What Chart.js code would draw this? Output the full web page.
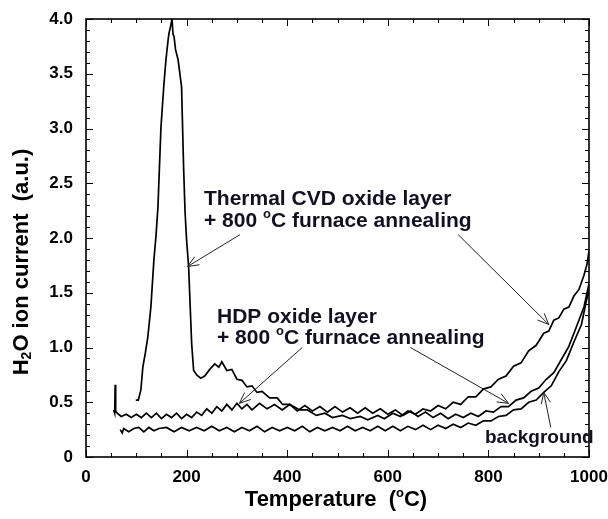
<!DOCTYPE html>
<html>
<head>
<meta charset="utf-8">
<script src="https://cdn.jsdelivr.net/npm/chart.js@4.4.1/dist/chart.umd.min.js"></script>
<style>
  html, body { margin: 0; padding: 0; background: #fff; }
</style>
</head>
<body>
<canvas id="tds" width="608" height="519"></canvas>
<script>
// axis ticks
const xTicks = [0, 200, 400, 600, 800, 1000];
const xTickLabels = ['0', '200', '400', '600', '800', '1000'];
const yTicks = [0, 0.5, 1, 1.5, 2, 2.5, 3, 3.5, 4];
const yTickLabels = ['0', '0.5', '1.0', '1.5', '2.0', '2.5', '3.0', '3.5', '4.0'];

// Thermal CVD oxide + 800C anneal
const cvdTemp = [99, 104, 109, 113, 118, 123, 129, 135, 139, 143, 149, 155, 159, 163, 165, 168, 171, 173, 175, 178,
  183, 190, 194, 197, 200, 204, 210, 214, 220, 228, 236, 246, 256, 264, 270, 280, 290, 300, 310, 320,
  330, 340, 350, 365, 380, 391, 405, 425, 440, 458, 475, 490, 510, 526, 545, 560, 580, 593, 610, 625,
  640, 655, 670, 685, 700, 715, 730, 745, 760, 775, 790, 805, 820, 835, 850, 865, 880, 895, 910, 920,
  930, 940, 950, 960, 970, 980, 990, 996, 1000];
const cvdCurrent = [0.52, 0.52, 0.61, 0.82, 0.95, 1.10, 1.37, 1.80, 2.01, 2.28, 3.01, 3.41, 3.63, 3.80, 3.87, 3.93, 4.0, 3.86, 3.84, 3.72,
  3.63, 3.38, 2.65, 2.23, 1.98, 1.74, 1.04, 0.79, 0.75, 0.72, 0.74, 0.80, 0.85, 0.82, 0.87, 0.79, 0.80, 0.71, 0.70, 0.64,
  0.65, 0.59, 0.60, 0.54, 0.54, 0.48, 0.48, 0.43, 0.43, 0.38, 0.40, 0.36, 0.38, 0.35, 0.37, 0.34, 0.38, 0.35, 0.40, 0.37,
  0.42, 0.39, 0.44, 0.42, 0.47, 0.44, 0.50, 0.48, 0.55, 0.55, 0.62, 0.64, 0.71, 0.74, 0.83, 0.86, 0.97, 1.02, 1.13, 1.15,
  1.25, 1.27, 1.35, 1.37, 1.47, 1.53, 1.66, 1.76, 1.88];

// HDP oxide + 800C anneal
const hdpTemp = [55, 57, 58, 59, 62, 70, 80, 90, 100, 110, 120, 130, 140, 150, 160, 170, 180, 190, 200, 210,
  220, 230, 240, 250, 260, 270, 280, 290, 300, 310, 320, 330, 345, 360, 375, 390, 405, 420, 435, 450,
  465, 480, 495, 510, 525, 540, 555, 570, 585, 600, 615, 630, 645, 660, 675, 690, 705, 720, 735, 750,
  765, 780, 795, 810, 825, 840, 855, 870, 885, 900, 915, 930, 945, 960, 975, 990, 1000];
const hdpCurrent = [0.43, 0.40, 0.66, 0.42, 0.40, 0.37, 0.39, 0.36, 0.39, 0.36, 0.40, 0.36, 0.40, 0.35, 0.39, 0.36, 0.40, 0.35, 0.39, 0.36,
  0.41, 0.38, 0.44, 0.40, 0.46, 0.42, 0.48, 0.43, 0.49, 0.44, 0.48, 0.43, 0.49, 0.44, 0.48, 0.43, 0.48, 0.42, 0.47, 0.42,
  0.46, 0.41, 0.46, 0.41, 0.45, 0.40, 0.45, 0.40, 0.44, 0.39, 0.43, 0.38, 0.42, 0.37, 0.41, 0.36, 0.40, 0.35, 0.39, 0.36,
  0.40, 0.37, 0.42, 0.41, 0.46, 0.46, 0.52, 0.54, 0.60, 0.63, 0.71, 0.77, 0.89, 1.01, 1.19, 1.37, 1.58];

// background
const bgTemp = [68, 72, 75, 85, 95, 105, 115, 125, 135, 145, 160, 175, 190, 205, 220, 235, 250, 265, 280, 295,
  310, 325, 340, 355, 370, 385, 400, 415, 430, 445, 460, 475, 490, 505, 520, 535, 550, 565, 580, 595,
  610, 625, 640, 655, 670, 685, 700, 715, 730, 745, 760, 775, 790, 805, 820, 835, 850, 865, 880, 895,
  910, 925, 940, 955, 970, 985, 995, 1000];
const bgCurrent = [0.25, 0.22, 0.26, 0.23, 0.26, 0.27, 0.23, 0.27, 0.24, 0.26, 0.27, 0.23, 0.27, 0.24, 0.27, 0.24, 0.28, 0.24, 0.27, 0.23,
  0.27, 0.24, 0.28, 0.23, 0.27, 0.24, 0.27, 0.24, 0.28, 0.23, 0.27, 0.24, 0.27, 0.24, 0.28, 0.24, 0.27, 0.24, 0.28, 0.24,
  0.28, 0.24, 0.28, 0.25, 0.29, 0.25, 0.29, 0.26, 0.30, 0.27, 0.31, 0.29, 0.33, 0.33, 0.37, 0.38, 0.43, 0.44, 0.50, 0.52,
  0.59, 0.65, 0.78, 0.88, 1.05, 1.21, 1.43, 1.52];

const FONT = '"Liberation Sans", Arial, sans-serif';

function pts(tx, vy) {
  return tx.map((t, i) => ({ x: t, y: vy[i] }));
}

// draws a string made of pieces, some raised (sup) or lowered (sub)
function richText(ctx, parts, x, y, size, align) {
  let w = 0;
  parts.forEach(p => {
    ctx.font = 'bold ' + Math.round(size * (p.s || 1)) + 'px ' + FONT;
    p.w = ctx.measureText(p.t).width;
    w += p.w;
  });
  let cx = align === 'center' ? x - w / 2 : x;
  parts.forEach(p => {
    ctx.font = 'bold ' + Math.round(size * (p.s || 1)) + 'px ' + FONT;
    ctx.fillText(p.t, cx, y + (p.dy || 0) * size);
    cx += p.w;
  });
}

function arrow(ctx, x1, y1, x2, y2) {
  const a = Math.atan2(y2 - y1, x2 - x1);
  const len = 12, spread = 0.4;
  ctx.beginPath();
  ctx.moveTo(x1, y1);
  ctx.lineTo(x2, y2);
  ctx.moveTo(x2 - len * Math.cos(a - spread), y2 - len * Math.sin(a - spread));
  ctx.lineTo(x2, y2);
  ctx.lineTo(x2 - len * Math.cos(a + spread), y2 - len * Math.sin(a + spread));
  ctx.stroke();
}

const frameAndNotes = {
  id: 'frameAndNotes',
  afterDraw(chart) {
    const { ctx, chartArea: { left, right, top, bottom }, scales: { x, y } } = chart;
    ctx.save();

    // frame
    ctx.strokeStyle = '#000';
    ctx.lineWidth = 1.6;
    ctx.strokeRect(left, top, right - left, bottom - top);

    // inward ticks on all four sides
    ctx.lineWidth = 1;
    ctx.beginPath();
    for (let v = 0; v <= 1000; v += 50) {
      const px = Math.round(x.getPixelForValue(v)) + 0.5;
      const l = v % 200 === 0 ? 7 : 4;
      ctx.moveTo(px, bottom); ctx.lineTo(px, bottom - l);
      ctx.moveTo(px, top); ctx.lineTo(px, top + l);
    }
    for (let k = 0; k <= 40; k++) {
      const py = Math.round(y.getPixelForValue(k / 10)) + 0.5;
      const l = k % 5 === 0 ? 7 : 4;
      ctx.moveTo(left, py); ctx.lineTo(left + l, py);
      ctx.moveTo(right, py); ctx.lineTo(right - l, py);
    }
    ctx.stroke();

    // axis titles
    ctx.fillStyle = '#000';
    ctx.textBaseline = 'middle';
    ctx.textAlign = 'left';
    richText(ctx, [{ t: 'Temperature  (' }, { t: 'o', s: 0.6, dy: -0.3 }, { t: 'C)' }], 336, 500, 22, 'center');

    ctx.save();
    ctx.translate(22, 262);
    ctx.rotate(-Math.PI / 2);
    richText(ctx, [{ t: 'H' }, { t: '2', s: 0.62, dy: 0.22 }, { t: 'O ion current  (a.u.)' }], 0, 0, 22, 'center');
    ctx.restore();

    // annotations
    ctx.fillStyle = '#111122';
    richText(ctx, [{ t: 'Thermal CVD oxide layer' }], 204, 199, 21);
    richText(ctx, [{ t: '+ 800 ' }, { t: 'o', s: 0.6, dy: -0.3 }, { t: 'C furnace annealing' }], 204, 221, 21);
    richText(ctx, [{ t: 'HDP oxide layer' }], 217, 317, 21);
    richText(ctx, [{ t: '+ 800 ' }, { t: 'o', s: 0.6, dy: -0.3 }, { t: 'C furnace annealing' }], 217, 338, 21);
    richText(ctx, [{ t: 'background' }], 485, 438, 19);

    ctx.strokeStyle = '#222';
    ctx.lineWidth = 1;
    const A = (t1, v1, t2, v2) => arrow(ctx, x.getPixelForValue(t1), y.getPixelForValue(v1),
      x.getPixelForValue(t2), y.getPixelForValue(v2));
    A(306, 2.03, 202, 1.74);
    A(740, 2.03, 920, 1.21);
    A(430, 1.0, 305, 0.49);
    A(645, 1.0, 840, 0.49);
    A(924, 0.27, 910, 0.59);

    ctx.restore();
  }
};

const lineStyle = { borderColor: '#000', borderWidth: 1.7, pointRadius: 0, fill: false, tension: 0 };

new Chart(document.getElementById('tds').getContext('2d'), {
  type: 'line',
  data: {
    datasets: [
      Object.assign({ label: 'Thermal CVD', data: pts(cvdTemp, cvdCurrent) }, lineStyle),
      Object.assign({ label: 'HDP', data: pts(hdpTemp, hdpCurrent) }, lineStyle),
      Object.assign({ label: 'background', data: pts(bgTemp, bgCurrent) }, lineStyle)
    ]
  },
  options: {
    responsive: false,
    animation: false,
    layout: { padding: { left: 0, top: 19, right: 19, bottom: 0 } },
    scales: {
      x: {
        type: 'linear', min: 0, max: 1000,
        afterBuildTicks: s => { s.ticks = xTicks.map(v => ({ value: v })); },
        afterFit: s => { s.height = 62; s.paddingLeft = 0; s.paddingRight = 0; },
        grid: { display: false, drawTicks: false },
        border: { display: false },
        ticks: {
          padding: 10, color: '#000', maxRotation: 0,
          font: { family: FONT, size: 17, weight: 'bold' },
          callback: v => xTickLabels[xTicks.indexOf(v)]
        }
      },
      y: {
        min: 0, max: 4,
        afterBuildTicks: s => { s.ticks = yTicks.map(v => ({ value: v })); },
        afterFit: s => { s.width = 86; s.paddingTop = 0; s.paddingBottom = 0; },
        grid: { display: false, drawTicks: false },
        border: { display: false },
        ticks: {
          padding: 13, color: '#000',
          font: { family: FONT, size: 17, weight: 'bold' },
          callback: v => yTickLabels[yTicks.indexOf(v)]
        }
      }
    },
    plugins: { legend: { display: false }, tooltip: { enabled: false } }
  },
  plugins: [frameAndNotes]
});
</script>
</body>
</html>
